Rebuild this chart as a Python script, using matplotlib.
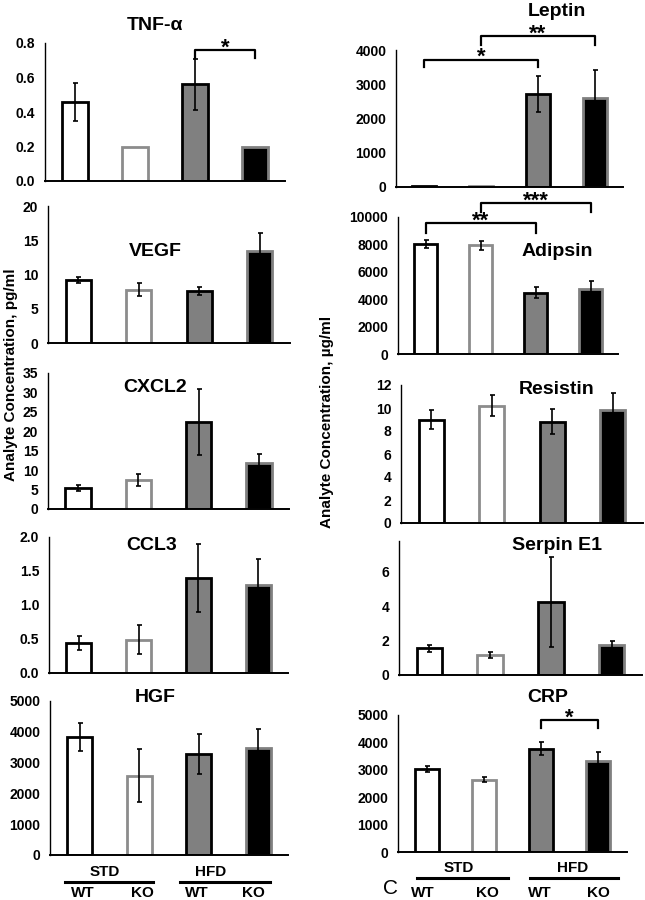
import matplotlib
matplotlib.use("Agg")
import matplotlib.pyplot as plt
from matplotlib.lines import Line2D

plt.rcParams["font.family"] = ["Liberation Sans", "DejaVu Sans"]
plt.rcParams["font.weight"] = "bold"

W, H = 645, 900

groups = ["STD WT", "STD KO", "HFD WT", "HFD KO"]

# --- cytokines (pg/ml) ---
tnf_mean = [0.46, 0.20, 0.56, 0.20]
tnf_err = [0.11, 0.0, 0.15, 0.0]
vegf_mean = [9.2, 7.8, 7.6, 13.5]
vegf_err = [0.4, 0.9, 0.6, 2.6]
cxcl2_mean = [5.5, 7.5, 22.3, 11.8]
cxcl2_err = [0.8, 1.6, 8.5, 2.3]
ccl3_mean = [0.44, 0.49, 1.39, 1.29]
ccl3_err = [0.10, 0.21, 0.50, 0.38]
hgf_mean = [3820, 2580, 3270, 3470]
hgf_err = [450, 860, 650, 620]

# --- adipokines (ug/ml) ---
leptin_mean = [30, 15, 2720, 2600]
leptin_err = [0, 0, 530, 830]
adipsin_mean = [8030, 7930, 4480, 4730]
adipsin_err = [300, 330, 420, 600]
resistin_mean = [9.0, 10.2, 8.8, 9.8]
resistin_err = [0.8, 0.9, 1.1, 1.5]
serpin_mean = [1.55, 1.15, 4.25, 1.75]
serpin_err = [0.20, 0.18, 2.60, 0.25]
crp_mean = [3020, 2640, 3770, 3320]
crp_err = [110, 80, 230, 320]

FILLS = ["white", "white", "#808080", "black"]
EDGES = ["black", "#8c8c8c", "black", "#808080"]


def fx(x):
    return x / W


def fy(y):
    return 1 - y / H


def make_axes(fig, x0, x1, ytop, yzero):
    return fig.add_axes([fx(x0), fy(yzero), (x1 - x0) / W, (yzero - ytop) / H])


def bar_panel(ax, mean, err, ylim, ticks, fmt):
    xs = range(len(mean))
    ax.bar(xs, mean, width=0.42, color=FILLS, edgecolor=EDGES, linewidth=2.0, zorder=2)
    for x, m, e in zip(xs, mean, err):
        if e > 0:
            ax.errorbar(x, m, yerr=e, color="black", lw=1.2, capsize=1.8,
                        capthick=1.2, zorder=3)
    ax.set_xlim(-0.5, 3.5)
    ax.set_ylim(*ylim)
    ax.set_yticks(ticks)
    ax.set_yticklabels([fmt.format(t) for t in ticks], fontsize=10, fontweight="bold")
    ax.set_xticks([])
    ax.spines["top"].set_visible(False)
    ax.spines["right"].set_visible(False)
    ax.spines["left"].set_linewidth(1.0)
    ax.spines["bottom"].set_linewidth(1.4)
    ax.tick_params(axis="y", length=0, pad=7)


def bracket(ax, i, j, y, leg, label):
    ax.plot([i, i, j, j], [y - leg, y, y, y - leg], color="black", lw=1.6,
            clip_on=False, zorder=4)
    ax.annotate(label, xy=((i + j) / 2, y), xytext=(0, -2.5),
                textcoords="offset points", ha="center", va="baseline",
                fontsize=16, fontweight="bold", annotation_clip=False)


fig = plt.figure(figsize=(W / 100, H / 100), dpi=100)

# left column
ax = make_axes(fig, 45, 285, 43, 181)
bar_panel(ax, tnf_mean, tnf_err, (0, 0.8), [0, 0.2, 0.4, 0.6, 0.8], "{:.1f}")
bracket(ax, 2, 3, 0.76, 0.045, "*")

ax = make_axes(fig, 48, 290, 206, 343)
bar_panel(ax, vegf_mean, vegf_err, (0, 20), [0, 5, 10, 15, 20], "{:g}")

ax = make_axes(fig, 48, 289, 373, 509)
bar_panel(ax, cxcl2_mean, cxcl2_err, (0, 35), [0, 5, 10, 15, 20, 25, 30, 35], "{:g}")

ax = make_axes(fig, 49, 288, 537, 673)
bar_panel(ax, ccl3_mean, ccl3_err, (0, 2.0), [0, 0.5, 1.0, 1.5, 2.0], "{:.1f}")

ax = make_axes(fig, 50, 288, 701, 855)
bar_panel(ax, hgf_mean, hgf_err, (0, 5000), [0, 1000, 2000, 3000, 4000, 5000], "{:g}")

# right column
ax = make_axes(fig, 396, 623, 50, 187)
bar_panel(ax, leptin_mean, leptin_err, (0, 4000), [0, 1000, 2000, 3000, 4000], "{:g}")
bracket(ax, 0, 2, 3720, 230, "*")
bracket(ax, 1, 3, 4410, 260, "**")

ax = make_axes(fig, 398, 618, 217, 354)
bar_panel(ax, adipsin_mean, adipsin_err, (0, 10000),
          [0, 2000, 4000, 6000, 8000, 10000], "{:g}")
bracket(ax, 0, 2, 9560, 700, "**")
bracket(ax, 1, 3, 11020, 650, "***")

ax = make_axes(fig, 401, 643, 385, 523)
bar_panel(ax, resistin_mean, resistin_err, (0, 12), [0, 2, 4, 6, 8, 10, 12], "{:g}")

ax = make_axes(fig, 399, 642, 541, 675)
bar_panel(ax, serpin_mean, serpin_err, (0, 7.8), [0, 2, 4, 6], "{:g}")

ax = make_axes(fig, 398, 627, 715, 852)
bar_panel(ax, crp_mean, crp_err, (0, 5000), [0, 1000, 2000, 3000, 4000, 5000], "{:g}")
bracket(ax, 2, 3, 4820, 290, "*")

# panel titles
titles = [("TNF-α", 155, 25), ("VEGF", 155, 252), ("CXCL2", 155, 387),
          ("CCL3", 152, 546), ("HGF", 155, 697),
          ("Leptin", 557, 11), ("Adipsin", 557, 252), ("Resistin", 557, 389),
          ("Serpin E1", 557, 545), ("CRP", 548, 697)]
for name, x, y in titles:
    fig.text(fx(x), fy(y), name, ha="center", va="center", fontsize=14,
             fontweight="bold")

# axis labels
fig.text(fx(11), fy(375), "Analyte Concentration, pg/ml", rotation=90,
         ha="center", va="center", fontsize=11, fontweight="bold")
fig.text(fx(327), fy(422), "Analyte Concentration, µg/ml", rotation=90,
         ha="center", va="center", fontsize=11, fontweight="bold")


# group labels under bottom panels
def group_labels(diet_pos, line_spans, geno_pos, y_diet, y_line, y_geno):
    for name, x in zip(["STD", "HFD"], diet_pos):
        fig.text(fx(x), fy(y_diet), name, ha="center", va="center", fontsize=11,
                 fontweight="bold")
    for a, b in line_spans:
        fig.add_artist(Line2D([fx(a), fx(b)], [fy(y_line), fy(y_line)],
                              color="black", lw=2.2, transform=fig.transFigure))
    for name, x in zip(["WT", "KO", "WT", "KO"], geno_pos):
        fig.text(fx(x), fy(y_geno), name, ha="center", va="center", fontsize=11,
                 fontweight="bold")


group_labels([105, 211], [(65, 153), (180, 270)], [83, 142, 197, 253], 872, 882, 893)
group_labels([459, 573], [(417, 508), (530, 618)], [423, 487, 540, 598], 868, 878, 893)
fig.text(fx(390), fy(888), "C", ha="center", va="center", fontsize=15,
         fontweight="normal")

fig.savefig("out.png", dpi=100)
